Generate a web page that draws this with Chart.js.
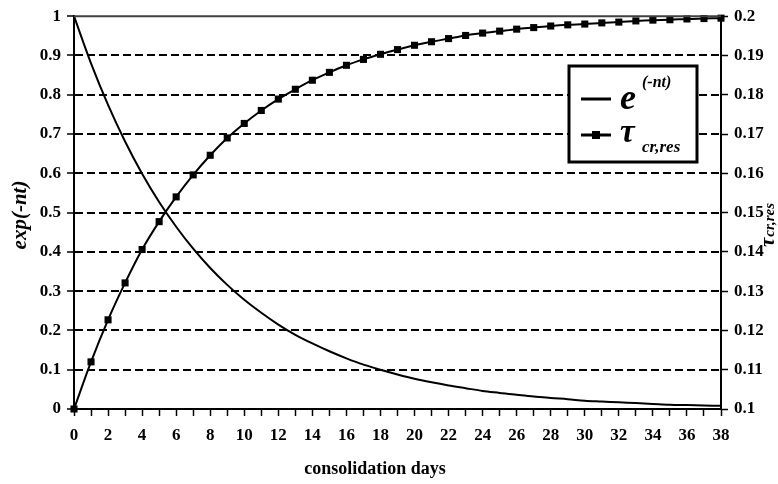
<!DOCTYPE html>
<html lang="en">
<head>
    <meta charset="UTF-8">
    <title>exp(-nt) and tau</title>
    <script src="https://cdn.jsdelivr.net/npm/chart.js@4.4.1/dist/chart.umd.min.js"></script>
    <style>
        body { margin: 0; background: #fff; }
    </style>
</head>
<body>
    <canvas id="graph" width="778" height="484"></canvas>
    <script>
        // consolidation days
        const days = [0,1,2,3,4,5,6,7,8,9,10,11,12,13,14,15,16,17,18,19,20,21,22,23,24,25,26,27,28,29,30,31,32,33,34,35,36,37,38];
        // exp(-nt), left axis
        const expVals = [1,0.880,0.774,0.681,0.599,0.527,0.464,0.408,0.359,0.316,0.278,0.245,0.215,0.189,0.167,0.147,0.129,0.113,0.100,0.088,
            0.077,0.068,0.060,0.053,0.046,0.041,0.036,0.032,0.028,0.025,0.021,0.019,0.017,0.015,0.013,0.011,0.010,0.009,0.008];
        // tau cr,res, right axis
        const tauVals = [0.1,0.112,0.1227,0.1321,0.1406,0.1477,0.1540,0.1596,0.1646,0.1690,0.1727,0.1760,0.1789,0.1814,0.1837,0.1857,0.1875,0.1890,0.1903,0.1915,
            0.1926,0.1935,0.1943,0.1951,0.1957,0.1962,0.1967,0.1971,0.1975,0.1978,0.1980,0.1983,0.1985,0.1988,0.1990,0.1991,0.1993,0.1994,0.1995];

        const SERIF = '"Liberation Serif", "Times New Roman", serif';

        const extras = {
            id: 'extras',
            afterDraw(chart) {
                const c = chart.ctx, a = chart.chartArea;
                c.save();
                // top frame line
                c.strokeStyle = '#404040';
                c.lineWidth = 2;
                c.beginPath();
                c.moveTo(a.left, a.top);
                c.lineTo(a.right, a.top);
                c.stroke();

                c.fillStyle = '#000';
                // x title
                c.font = 'bold 18px ' + SERIF;
                c.textAlign = 'center';
                c.textBaseline = 'middle';
                c.fillText('consolidation days', 375, 469);

                // left title
                c.save();
                c.translate(21, 215);
                c.rotate(-Math.PI / 2);
                c.font = 'italic bold 21px ' + SERIF;
                c.fillText('exp(-nt)', 0, 0);
                c.restore();

                // right title
                c.save();
                c.translate(774, 247);
                c.rotate(-Math.PI / 2);
                c.textAlign = 'left';
                c.textBaseline = 'alphabetic';
                c.font = 'italic bold 21px ' + SERIF;
                c.fillText('τ', 0, 0);
                const w = c.measureText('τ').width;
                c.font = 'italic bold 15px ' + SERIF;
                c.fillText('cr,res', w + 1, 0);
                c.restore();

                // legend box
                c.fillStyle = '#fff';
                c.fillRect(569, 66, 128, 96);
                c.strokeStyle = '#000';
                c.lineWidth = 3;
                c.strokeRect(569, 66, 128, 96);

                c.lineWidth = 3;
                c.beginPath();
                c.moveTo(581, 99); c.lineTo(611, 99);
                c.moveTo(581, 135); c.lineTo(611, 135);
                c.stroke();
                c.fillStyle = '#000';
                c.fillRect(592, 131, 8, 8);

                c.textAlign = 'left';
                c.textBaseline = 'alphabetic';
                c.font = 'italic bold 36px ' + SERIF;
                c.fillText('e', 620, 109);
                c.font = 'italic bold 16px ' + SERIF;
                c.fillText('(-nt)', 642, 87);
                c.font = 'italic bold 33px ' + SERIF;
                c.fillText('τ', 620, 142);
                c.font = 'italic bold 17px ' + SERIF;
                c.fillText('cr,res', 642, 152);
                c.restore();
            }
        };

        const ctx = document.getElementById('graph').getContext('2d');
        const myChart = new Chart(ctx, {
            type: 'line',
            data: {
                datasets: [
                    {
                        label: 'e(-nt)',
                        data: days.map((d, i) => ({ x: d, y: expVals[i] })),
                        yAxisID: 'y',
                        borderColor: '#000',
                        borderWidth: 2,
                        pointRadius: 0,
                        cubicInterpolationMode: 'monotone',
                        fill: false,
                        clip: false
                    },
                    {
                        label: 'tau cr,res',
                        data: days.map((d, i) => ({ x: d, y: tauVals[i] })),
                        yAxisID: 'y2',
                        borderColor: '#000',
                        backgroundColor: '#000',
                        borderWidth: 2,
                        pointStyle: 'rect',
                        pointRadius: 5,
                        pointBackgroundColor: '#000',
                        pointBorderWidth: 0,
                        cubicInterpolationMode: 'monotone',
                        fill: false,
                        clip: false
                    }
                ]
            },
            options: {
                responsive: false,
                animation: false,
                layout: { padding: { top: 16, left: 0, right: 0, bottom: 0 } },
                plugins: { legend: { display: false }, tooltip: { enabled: false } },
                scales: {
                    x: {
                        type: 'linear',
                        min: 0, max: 38,
                        afterFit: s => { s.height = 75; },
                        ticks: {
                            stepSize: 1,
                            autoSkip: false,
                            maxRotation: 0,
                            padding: 9,
                            color: '#000',
                            font: { family: SERIF, size: 17, weight: 'bold' },
                            callback: v => (v % 2 === 0 ? v : '')
                        },
                        grid: { drawOnChartArea: false, tickLength: 7, tickColor: '#000', tickWidth: 1.5 },
                        border: { color: '#000', width: 2 }
                    },
                    y: {
                        position: 'left',
                        min: 0, max: 1,
                        afterFit: s => { s.width = 74; },
                        ticks: {
                            stepSize: 0.1,
                            padding: 6,
                            color: '#000',
                            font: { family: SERIF, size: 17, weight: 'bold' },
                            callback: v => +v.toFixed(1)
                        },
                        grid: {
                            color: c => (c.tick && (c.tick.value === 0 || c.tick.value === 1) ? 'rgba(0,0,0,0)' : '#000'),
                            lineWidth: 2,
                            tickLength: 7,
                            tickColor: '#000',
                            tickWidth: 1.5
                        },
                        border: { color: '#000', width: 2, dash: [8, 4] }
                    },
                    y2: {
                        position: 'right',
                        min: 0.1, max: 0.2,
                        afterFit: s => { s.width = 57; },
                        ticks: {
                            stepSize: 0.01,
                            padding: 6,
                            color: '#000',
                            font: { family: SERIF, size: 17, weight: 'bold' },
                            callback: v => +v.toFixed(2)
                        },
                        grid: { drawOnChartArea: false, tickLength: 7, tickColor: '#000', tickWidth: 1.5 },
                        border: { color: '#000', width: 2 }
                    }
                }
            },
            plugins: [extras]
        });
    </script>
</body>
</html>
